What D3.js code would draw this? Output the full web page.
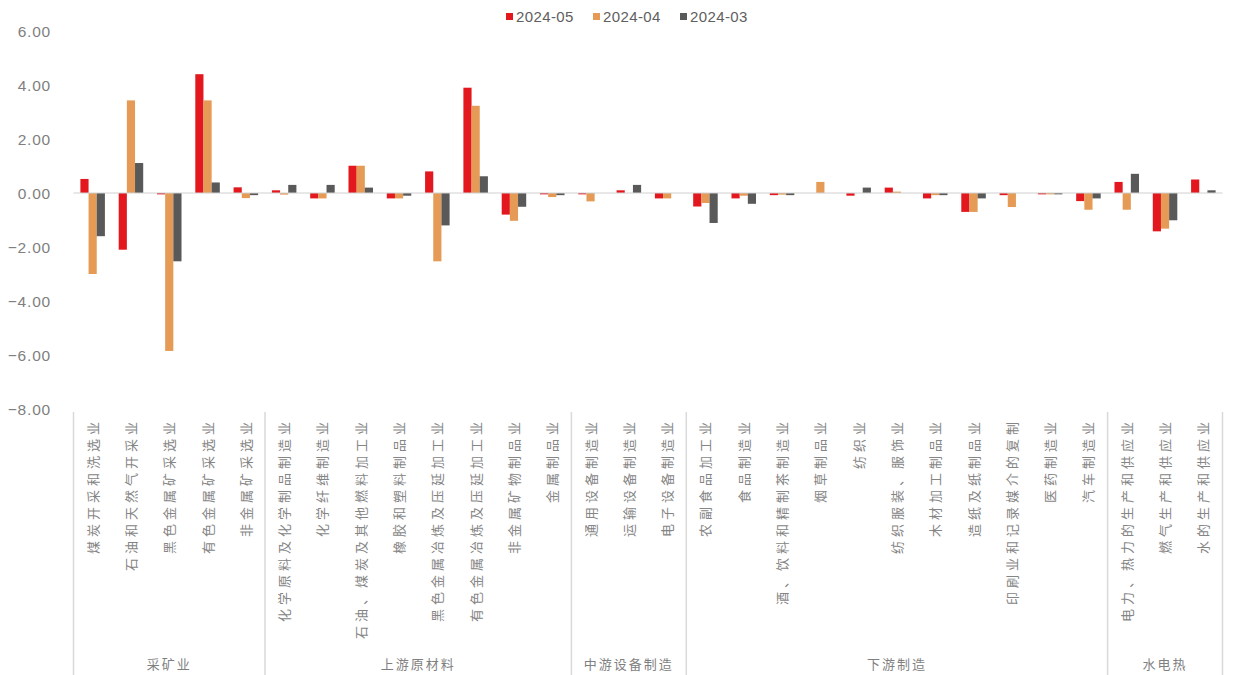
<!DOCTYPE html>
<html>
<head>
<meta charset="utf-8">
<script src="https://cdn.jsdelivr.net/npm/d3@7"></script>
<style>
  html, body { margin: 0; padding: 0; background: #fff; }
  svg { display: block; }
</style>
</head>
<body>
<svg id="chart" width="1236" height="675"></svg>
<script>
// Industry categories (30), grouped into five sectors
const categories = [
  "煤炭开采和洗选业", "石油和天然气开采业", "黑色金属矿采选业", "有色金属矿采选业", "非金属矿采选业",
  "化学原料及化学制品制造业", "化学纤维制造业", "石油、煤炭及其他燃料加工业", "橡胶和塑料制品业",
  "黑色金属冶炼及压延加工业", "有色金属冶炼及压延加工业", "非金属矿物制品业", "金属制品业",
  "通用设备制造业", "运输设备制造业", "电子设备制造业",
  "农副食品加工业", "食品制造业", "酒、饮料和精制茶制造业", "烟草制品业", "纺织业", "纺织服装、服饰业",
  "木材加工制品业", "造纸及纸制品业", "印刷业和记录媒介的复制", "医药制造业", "汽车制造业",
  "电力、热力的生产和供应业", "燃气生产和供应业", "水的生产和供应业"
];

const groupNames = ["采矿业", "上游原材料", "中游设备制造", "下游制造", "水电热"];
const groupSizes = [5, 8, 3, 11, 3];

const seriesNames = ["2024-05", "2024-04", "2024-03"];

const values2405 = [
  0.52, -2.10, -0.05, 4.40, 0.21,
  0.10, -0.20, 1.01, -0.20, 0.80, 3.90, -0.80, -0.05,
  -0.05, 0.10, -0.20,
  -0.50, -0.20, -0.08, 0.00, -0.10, 0.20, -0.20, -0.70, -0.08, -0.05, -0.30,
  0.41, -1.42, 0.50
];
const values2404 = [
  -3.00, 3.43, -5.85, 3.43, -0.19,
  -0.06, -0.20, 1.01, -0.20, -2.53, 3.23, -1.03, -0.15,
  -0.31, 0.00, -0.20,
  -0.37, -0.10, -0.06, 0.41, 0.00, 0.05, -0.08, -0.70, -0.52, -0.05, -0.62,
  -0.62, -1.32, 0.00
];
const values2403 = [
  -1.60, 1.11, -2.53, 0.39, -0.08,
  0.30, 0.30, 0.20, -0.10, -1.20, 0.62, -0.51, -0.08,
  0.00, 0.30, 0.00,
  -1.11, -0.40, -0.08, 0.00, 0.20, 0.00, -0.08, -0.20, 0.00, -0.05, -0.20,
  0.71, -1.01, 0.10
];

const yTicks = [6, 4, 2, 0, -2, -4, -6, -8];
const colors = ["#E3171E", "#E59A55", "#595959"];

const seriesValues = [values2405, values2404, values2403];

const svg = d3.select("#chart");

const plotLeft = 73.5, plotRight = 1222.5, plotTop = 31, plotBottom = 409;

const x = d3.scaleBand()
  .domain(categories)
  .range([plotLeft, plotRight])
  .paddingInner(0.36)
  .paddingOuter(0.18);

const xSub = d3.scaleBand()
  .domain(seriesNames)
  .range([0, x.bandwidth()]);

const y = d3.scaleLinear().domain([-8, 6]).range([plotBottom, plotTop]);

// Y-axis labels (no axis line, no gridlines)
const yAxis = d3.axisLeft(y).tickValues(yTicks).tickFormat(d3.format(".2f")).tickSize(0).tickPadding(0);
const yg = svg.append("g").attr("transform", "translate(51,0)").call(yAxis);
yg.select(".domain").remove();
yg.selectAll("text")
  .attr("fill", "#7f7f7f")
  .attr("font-family", "'Liberation Sans', Arial, sans-serif")
  .attr("font-size", 15.5)
  .attr("letter-spacing", "0.8px")
  .attr("dy", "0.35em");

// Bars
const catGroups = svg.append("g").selectAll("g")
  .data(categories)
  .join("g")
  .attr("transform", d => `translate(${x(d)},0)`);

catGroups.selectAll("rect")
  .data((d, i) => seriesNames.map((s, k) => ({ s, k, v: seriesValues[k][i] })))
  .join("rect")
  .attr("x", d => xSub(d.s))
  .attr("width", xSub.bandwidth())
  .attr("y", d => y(Math.max(0, d.v)))
  .attr("height", d => Math.abs(y(d.v) - y(0)))
  .attr("fill", d => colors[d.k]);

// Zero line
svg.append("line")
  .attr("x1", plotLeft).attr("x2", plotRight)
  .attr("y1", y(0)).attr("y2", y(0))
  .attr("stroke", "#d0d0d0").attr("stroke-width", 1);

// Category labels, rotated
svg.append("g").selectAll("text")
  .data(categories)
  .join("text")
  .attr("transform", d => `translate(${x(d) + x.bandwidth() / 2 + 5},418) rotate(-90)`)
  .attr("text-anchor", "end")
  .attr("fill", "#858585")
  .attr("font-family", "'Noto Sans CJK SC', sans-serif")
  .attr("font-size", 13)
  .attr("letter-spacing", "4px")
  .text(d => d);

// Sector separators and sector labels
const step = x.step();
let cursor = 0;
const bounds = [0];
groupSizes.forEach(n => { cursor += n; bounds.push(cursor); });
const boundaryX = i => i === 0 ? plotLeft : (i === categories.length ? plotRight : x(categories[i]) - x.paddingInner() * step / 2);

svg.append("g").selectAll("line")
  .data(bounds)
  .join("line")
  .attr("x1", d => boundaryX(d)).attr("x2", d => boundaryX(d))
  .attr("y1", 412).attr("y2", 675)
  .attr("stroke", "#d9d9d9").attr("stroke-width", 1.5);

svg.append("g").selectAll("text")
  .data(groupNames)
  .join("text")
  .attr("x", (d, i) => (boundaryX(bounds[i]) + boundaryX(bounds[i + 1])) / 2)
  .attr("y", 669)
  .attr("text-anchor", "middle")
  .attr("fill", "#7f7f7f")
  .attr("font-family", "'Noto Sans CJK SC', sans-serif")
  .attr("font-size", 13)
  .attr("letter-spacing", "2px")
  .text(d => d);

// Legend
const legendX = [506, 593, 680];
const legend = svg.append("g").selectAll("g")
  .data(seriesNames)
  .join("g")
  .attr("transform", (d, i) => `translate(${legendX[i]},17)`);
legend.append("rect")
  .attr("x", 0).attr("y", -4).attr("width", 7).attr("height", 7)
  .attr("fill", (d, i) => colors[i]);
legend.append("text")
  .attr("x", 10).attr("y", 0).attr("dy", "0.35em")
  .attr("fill", "#606060")
  .attr("font-family", "'Liberation Sans', Arial, sans-serif")
  .attr("font-size", 15)
  .attr("letter-spacing", "0.4px")
  .text(d => d);
</script>
</body>
</html>
